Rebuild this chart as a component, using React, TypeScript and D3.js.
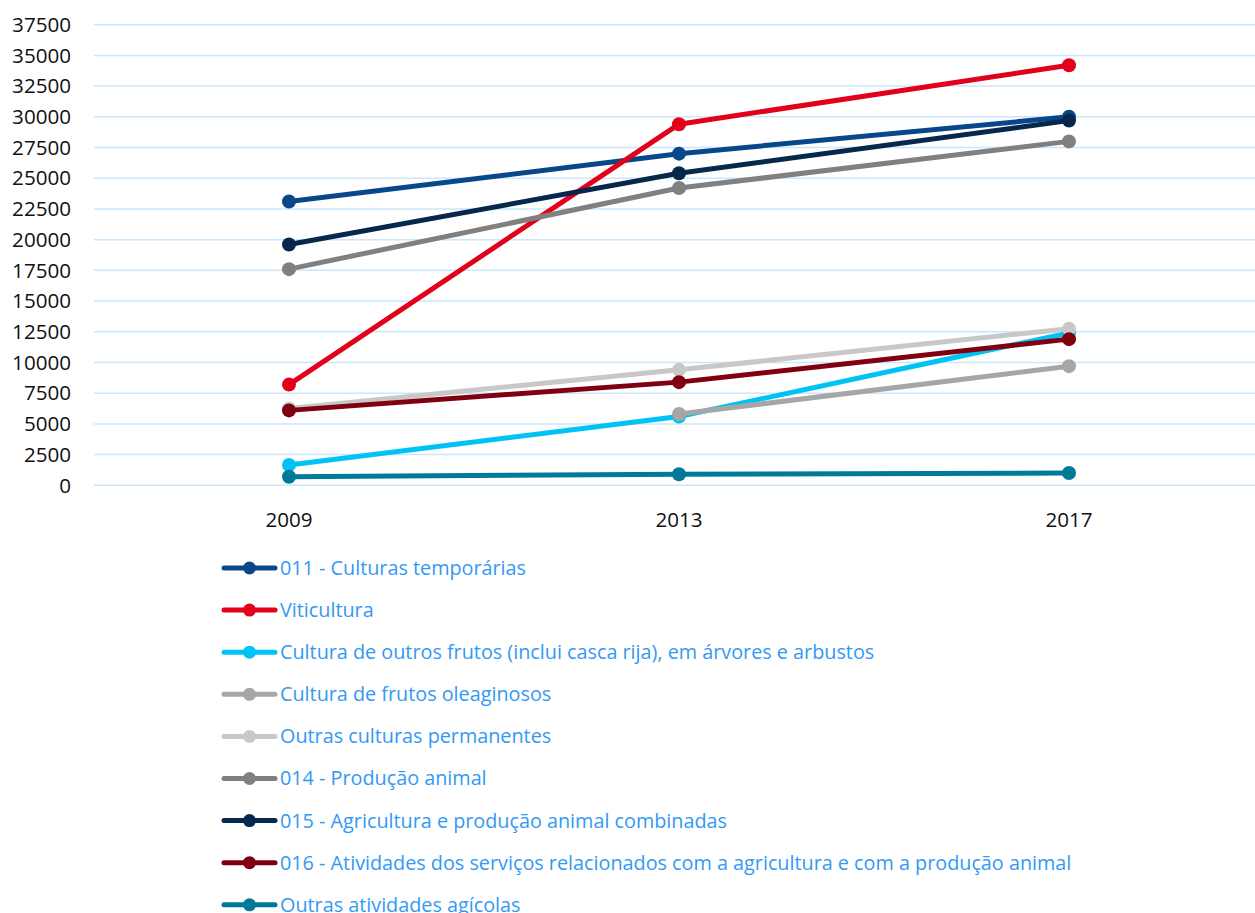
import React from "react";
import * as d3 from "d3";

const years = ["2009", "2013", "2017"];
const yTicks = [0, 2500, 5000, 7500, 10000, 12500, 15000, 17500, 20000, 22500, 25000, 27500, 30000, 32500, 35000, 37500];

const seriesNames = [
  "011 - Culturas temporárias",
  "Viticultura",
  "Cultura de outros frutos (inclui casca rija), em árvores e arbustos",
  "Cultura de frutos oleaginosos",
  "Outras culturas permanentes",
  "014 - Produção animal",
  "015 - Agricultura e produção animal combinadas",
  "016 - Atividades dos serviços relacionados com a agricultura e com a produção animal",
  "Outras atividades agícolas",
];
const seriesColors = ["#08488A", "#E2001A", "#00C3F5", "#A6A6A6", "#C8C8C8", "#808080", "#06284D", "#800012", "#007A98"];

const culturasTemporarias = [23100, 27000, 30000];
const viticultura = [8200, 29400, 34200];
const outrosFrutos = [1650, 5600, 12400];
const frutosOleaginosos: (number | null)[] = [null, 5800, 9700];
const outrasPermanentes = [6250, 9400, 12750];
const producaoAnimal = [17600, 24200, 28000];
const agriculturaCombinada = [19600, 25400, 29700];
const servicosAgricultura = [6100, 8400, 11900];
const outrasAtividades = [700, 900, 1000];

const seriesValues = [
  culturasTemporarias,
  viticultura,
  outrosFrutos,
  frutosOleaginosos,
  outrasPermanentes,
  producaoAnimal,
  agriculturaCombinada,
  servicosAgricultura,
  outrasAtividades,
];

export default function App() {
  const W = 1255, H = 913;
  const x = d3.scalePoint<string>().domain(years).range([94, 1264]).padding(0.5);
  const y = d3.scaleLinear().domain([0, 37500]).range([485.3, 24.7]);
  const line = d3
    .line<number | null>()
    .defined((d) => d != null)
    .x((_, i) => x(years[i]) as number)
    .y((d) => y(d as number));
  const font = "'Open Sans', 'Noto Sans', sans-serif";
  const legendY0 = 568;
  const legendStep = 42.1;
  return (
    <div style={{ position: "absolute", left: 0, top: 0 }}>
      <svg width={W} height={H} style={{ display: "block", background: "#fff" }}>
        {yTicks.map((t) => (
          <g key={t}>
            <line x1={94} x2={W} y1={y(t)} y2={y(t)} stroke="#CCE6FA" strokeWidth={1.5} />
            <text x={71} y={y(t)} dy="0.35em" textAnchor="end" fontFamily={font} fontSize={20.6} fill="#111">
              {t}
            </text>
          </g>
        ))}
        {years.map((yr) => (
          <text key={yr} x={x(yr)} y={527} textAnchor="middle" fontFamily={font} fontSize={20.6} fill="#111">
            {yr}
          </text>
        ))}
        {seriesValues.map((vals, si) => (
          <g key={si}>
            <path d={line(vals) || ""} fill="none" stroke={seriesColors[si]} strokeWidth={5} strokeLinejoin="round" />
            {vals.map((v, i) =>
              v == null ? null : (
                <circle key={i} cx={x(years[i])} cy={y(v)} r={7} fill={seriesColors[si]} />
              )
            )}
          </g>
        ))}
        {seriesNames.map((name, si) => {
          const ly = legendY0 + si * legendStep;
          return (
            <g key={name}>
              <line x1={224} x2={275} y1={ly} y2={ly} stroke={seriesColors[si]} strokeWidth={5} strokeLinecap="round" />
              <circle cx={249.5} cy={ly} r={6.5} fill={seriesColors[si]} />
              <text x={280} y={ly} dy="0.35em" fontFamily={font} fontSize={19.8} fill="#3399F3">
                {name}
              </text>
            </g>
          );
        })}
      </svg>
    </div>
  );
}
